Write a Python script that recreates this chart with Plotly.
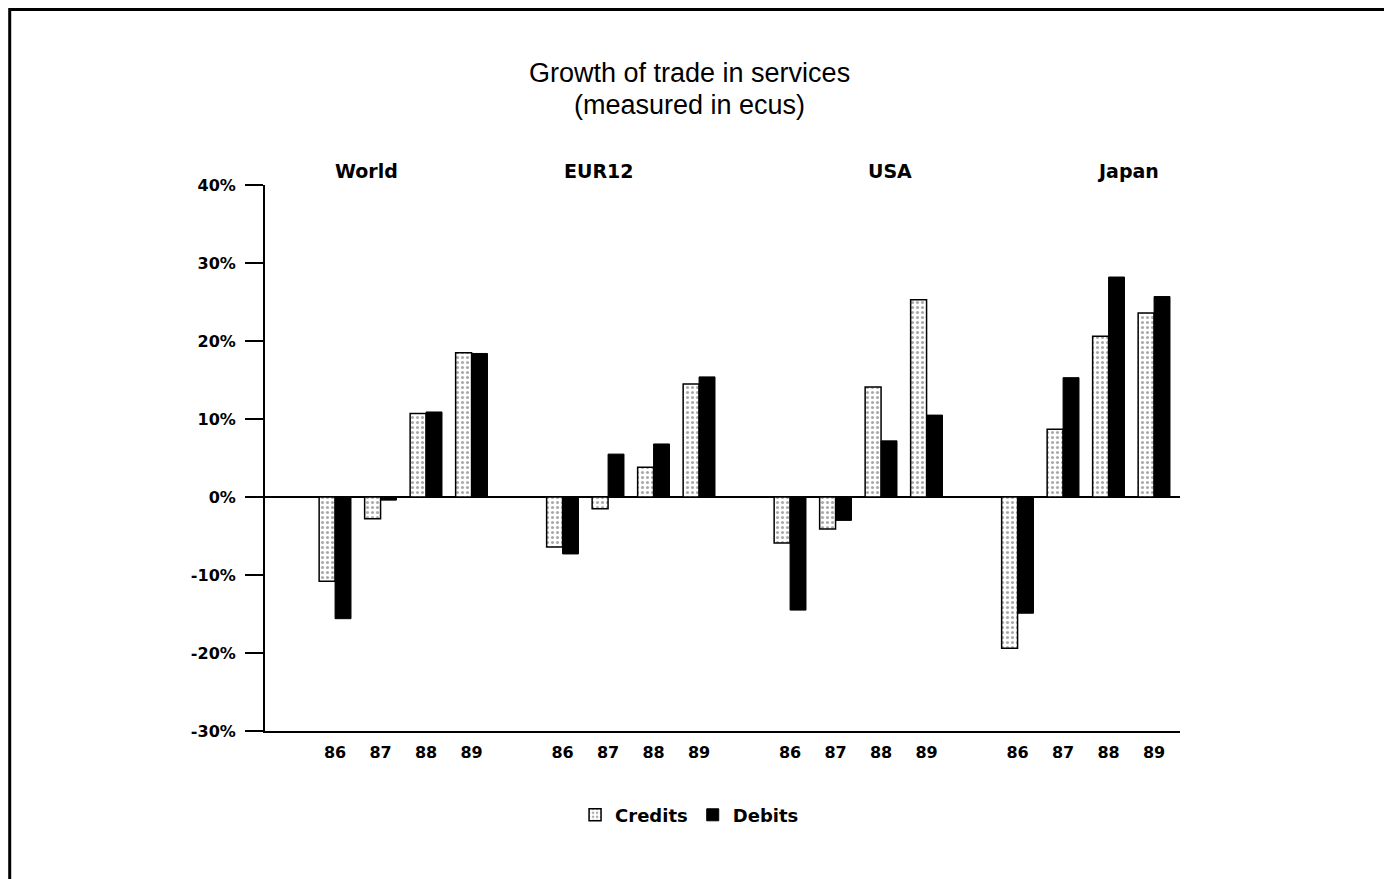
import plotly.graph_objects as go

groups = ["World", "EUR12", "USA", "Japan"]
years = ["86", "87", "88", "89"]

credits_world = [-10.8, -2.8, 10.7, 18.5]
debits_world = [-15.6, -0.4, 10.9, 18.4]
credits_eur12 = [-6.4, -1.5, 3.8, 14.5]
debits_eur12 = [-7.3, 5.5, 6.8, 15.4]
credits_usa = [-5.9, -4.1, 14.1, 25.3]
debits_usa = [-14.5, -3.0, 7.2, 10.5]
credits_japan = [-19.4, 8.7, 20.6, 23.6]
debits_japan = [-14.9, 15.3, 28.2, 25.7]

credits = credits_world + credits_eur12 + credits_usa + credits_japan
debits = debits_world + debits_eur12 + debits_usa + debits_japan

y_ticks = [-30, -20, -10, 0, 10, 20, 30, 40]

title_lines = ["Growth of trade in services", "(measured in ecus)"]

# category positions: 4 years per group, one empty slot between groups
xpos = [g * 5 + i for g in range(len(groups)) for i in range(len(years))]
xlabels = [y for _ in groups for y in years]

FONT = "Liberation Sans, Arial, sans-serif"
BOLD = "DejaVu Sans, Verdana, sans-serif"

fig = go.Figure()
fig.add_trace(go.Bar(
    x=xpos, y=credits, name="Credits",
    marker=dict(color="white", line=dict(color="black", width=1.5),
                pattern=dict(shape=".", fgcolor="#555555", bgcolor="white",
                             size=5, solidity=0.3)),
))
fig.add_trace(go.Bar(
    x=xpos, y=debits, name="Debits",
    marker=dict(color="black", line=dict(color="black", width=1)),
))

label_x = [0.7, 5.78, 12.2, 17.43]
annotations = [
    dict(text=f"<b>{g}</b>", x=lx, xref="x", y=1.049, yref="paper",
         showarrow=False, font=dict(family=BOLD, size=19, color="black"))
    for g, lx in zip(groups, label_x)
]
for txt, ty in zip(title_lines, [1.205, 1.146]):
    annotations.append(dict(text=txt, x=0.464, xref="paper", y=ty, yref="paper",
                            yanchor="middle", showarrow=False,
                            font=dict(family=FONT, size=27, color="black")))

fig.update_layout(
    width=1392, height=879,
    margin=dict(l=257, r=220, t=177, b=156),
    paper_bgcolor="white", plot_bgcolor="white",
    barmode="group", bargap=0.3, bargroupgap=0,
    font=dict(family=FONT, color="black"),
    showlegend=True,
    xaxis=dict(range=[-1.54, 18.57], tickvals=xpos, ticktext=xlabels,
               showline=True, linecolor="black", linewidth=2, ticks="",
               showgrid=False, zeroline=False, ticklabelstandoff=6,
               tickfont=dict(family=BOLD, size=16, color="black", weight="bold")),
    yaxis=dict(range=[-30, 40], tickvals=y_ticks,
               ticktext=[f"{v}%" for v in y_ticks],
               showline=True, linecolor="black", linewidth=2,
               ticks="outside", ticklen=18, tickwidth=2, tickcolor="black",
               ticklabelstandoff=6,
               showgrid=False, zeroline=True, zerolinecolor="black", zerolinewidth=2,
               tickfont=dict(family=BOLD, size=16, color="black", weight="bold")),
    legend=dict(orientation="h", x=0.464, xanchor="center", y=-0.154, yanchor="middle",
                font=dict(family=BOLD, size=18, color="black", weight="bold"),
                itemwidth=30),
    annotations=annotations,
    shapes=[dict(type="rect", xref="paper", yref="paper",
                 x0=-0.279, x1=1.226, y0=-0.32, y1=1.3214,
                 line=dict(color="black", width=3))],
)

fig.write_html("out.html")
